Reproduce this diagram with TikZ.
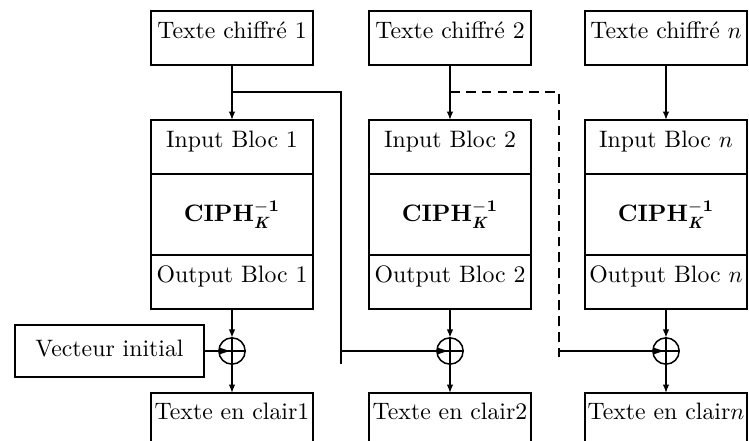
\documentclass[tikz,border=0pt]{standalone}
\usetikzlibrary{arrows.meta}
\newcommand{\ciphinv}{\textbf{CIPH}$_{\mbox{\scriptsize\bfseries\itshape K}}^{\mbox{\scriptsize\bfseries $-$1}}$}
\begin{document}
\begin{tikzpicture}[x=0.429pt,y=-0.429pt,
  line width=0.65pt,
  every node/.style={outer sep=0pt, font=\fontsize{10.2pt}{12pt}\selectfont},
  >={Latex[length=3.6pt,width=2.8pt]},
  blk/.style={draw, minimum width=69.5pt, inner sep=0pt,
    text height=11.6pt, text depth=11.6pt, anchor=north},
  ciphbox/.style={draw, minimum width=69.5pt, minimum height=34.75pt,
    inner sep=0pt, anchor=north},
  plainbox/.style={draw, minimum width=69.5pt, inner sep=0pt,
    text height=11.2pt, text depth=25pt, anchor=north},
  ivbox/.style={draw, minimum width=81.1pt, minimum height=22.3pt,
    inner sep=0pt, text depth=2.6pt},
  xorop/.style={draw, circle, minimum size=11.3pt, inner sep=0pt},
  toxor/.style={-{Latex[length=5.2pt,width=2.9pt]}},
  chainline/.style={dash pattern=on 4.2pt off 2.6pt}
]
\useasboundingbox (0,0) rectangle (749,441);

% block 1
\node[blk] (t1) at (232,11) {Texte chiffré 1};
\node[blk] (in1) at (232,120) {Input Bloc 1};
\node[ciphbox] (k1) at (232,174) {\ciphinv};
\node[blk] (out1) at (232,255) {Output Bloc 1};
\node[xorop] (x1) at (232,351) {};
\node[plainbox] (p1) at (232,393) {Texte en clair1};

% block 2
\node[blk] (t2) at (450,11) {Texte chiffré 2};
\node[blk] (in2) at (450,120) {Input Bloc 2};
\node[ciphbox] (k2) at (450,174) {\ciphinv};
\node[blk] (out2) at (450,255) {Output Bloc 2};
\node[xorop] (x2) at (450,351) {};
\node[plainbox] (p2) at (450,393) {Texte en clair2};

% block n
\node[blk] (tn) at (666,11) {Texte chiffré $n$};
\node[blk] (inn) at (666,120) {Input Bloc $n$};
\node[ciphbox] (kn) at (666,174) {\ciphinv};
\node[blk] (outn) at (666,255) {Output Bloc $n$};
\node[xorop] (xn) at (666,351) {};
\node[plainbox] (pn) at (666,393) {Texte en clair$n$};

\node[ivbox] (iv) at (109.5,351) {Vecteur initial};

% XOR crosses
\draw (x1.north) -- (x1.south) (x1.west) -- (x1.east);
\draw (x2.north) -- (x2.south) (x2.west) -- (x2.east);
\draw (xn.north) -- (xn.south) (xn.west) -- (xn.east);

% data flow of each block
\draw[->] (t1.south) -- (in1.north);
\draw[->] (out1.south) -- (x1.north);
\draw[->] (x1.south) -- (p1.north);
\draw[->] (t2.south) -- (in2.north);
\draw[->] (out2.south) -- (x2.north);
\draw[->] (x2.south) -- (p2.north);
\draw[->] (tn.south) -- (inn.north);
\draw[->] (outn.south) -- (xn.north);
\draw[->] (xn.south) -- (pn.north);

\draw[toxor] (iv.east) -- (x1.center);

% ciphertext 1 feeds the XOR of block 2
\coordinate (j1) at (232,92);
\coordinate (c1) at (341,92);
\coordinate (e1) at (341,364);
\draw (j1) -- (c1) -- (e1);
\draw[toxor] (e1 |- x2) -- (x2.center);

% ciphertext 2 and the following ones feed the XOR of block n
\coordinate (j2) at (450,92);
\coordinate (c2) at (559,92);
\coordinate (e2) at (559,363);
\draw[chainline] (j2) -- (c2) -- (e2);
\draw[toxor] (e2 |- xn) -- (xn.center);
\end{tikzpicture}
\end{document}
